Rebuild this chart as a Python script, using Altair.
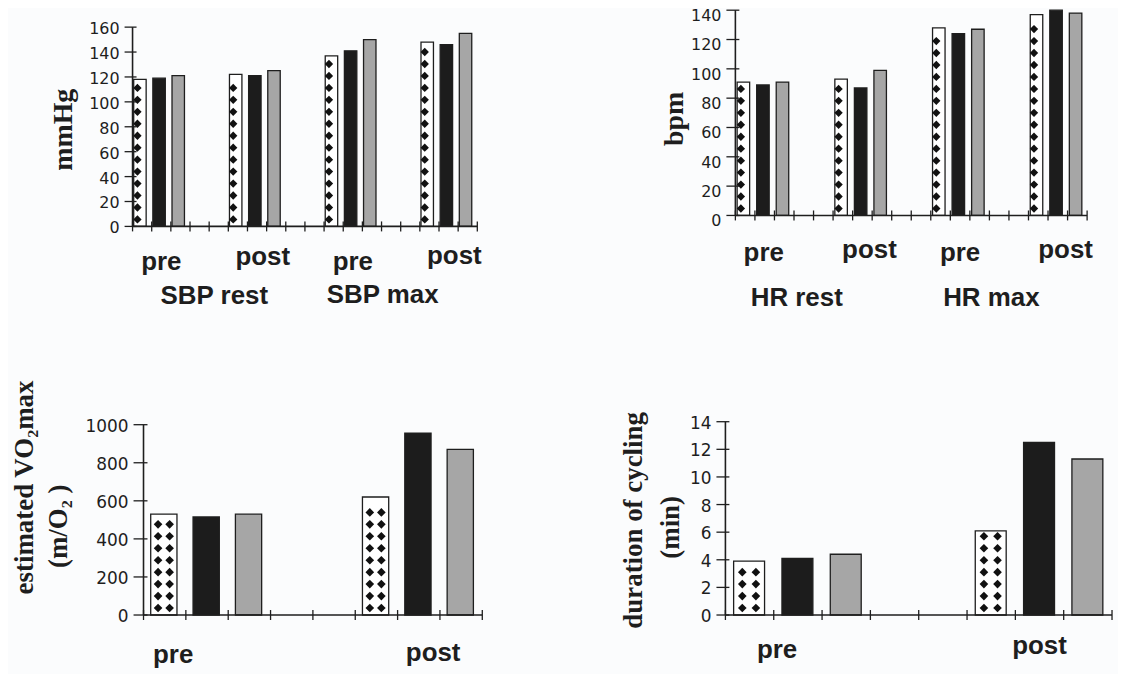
import altair as alt
import pandas as pd

# ---------------- data ----------------
SERIES = ["Group 1", "Group 2", "Group 3"]

SBP_LABELS = ["pre", "post", "pre", "post"]
SBP_SUB = ["SBP rest", "SBP max"]
SBP_G1 = [118, 122, 137, 148]
SBP_G2 = [119, 121, 141, 146]
SBP_G3 = [121, 125, 150, 155]
SBP_TICKS = [0, 20, 40, 60, 80, 100, 120, 140, 160]

HR_LABELS = ["pre", "post", "pre", "post"]
HR_SUB = ["HR  rest", "HR max"]
HR_G1 = [91, 93, 128, 137]
HR_G2 = [89, 87, 124, 140]
HR_G3 = [91, 99, 127, 138]
HR_TICKS = [0, 20, 40, 60, 80, 100, 120, 140]

VO2_LABELS = ["pre", "post"]
VO2_G1 = [530, 620]
VO2_G2 = [515, 955]
VO2_G3 = [530, 870]
VO2_TICKS = [0, 200, 400, 600, 800, 1000]

DUR_LABELS = ["pre", "post"]
DUR_G1 = [3.9, 6.1]
DUR_G2 = [4.1, 12.5]
DUR_G3 = [4.4, 11.3]
DUR_TICKS = [0, 2, 4, 6, 8, 10, 12, 14]

# ---------------- style / layout ----------------
INK = "#1e1e1e"
BG = "#fbfcfd"
FILLS = ["#ffffff", "#1c1c1c", "#a6a6a6"]
SERIF = "Liberation Serif"
SANS = "Liberation Sans"
TICKFONT = "DejaVu Sans"
GROUP_STEP = 5


def panel(series_vals, ticks, n_slots, plot_w, plot_h, ext_left, ext_top,
          bar_off, bar_w, tick_len, tick_fs, tick_dy, pattern, labels, titles):
    slot_px = plot_w / n_slots
    ymax = ticks[-1]
    unit_px = plot_h / ymax
    width = plot_w + ext_left
    height = plot_h + ext_top
    xscale = alt.Scale(domain=[-ext_left / slot_px, n_slots], nice=False, zero=False)
    yscale = alt.Scale(domain=[0, ymax + ext_top / unit_px], nice=False, zero=False)

    rows = []
    for s, vals in enumerate(series_vals):
        for g, v in enumerate(vals):
            rows.append({"series": SERIES[s], "slot": g * GROUP_STEP + s, "value": v})
    df = pd.DataFrame(rows)

    bars = alt.Chart(df).transform_calculate(
        x0=f"datum.slot + {bar_off}", x1=f"datum.slot + {bar_off + bar_w}"
    ).mark_bar(stroke=INK, strokeWidth=1.3).encode(
        x=alt.X("x0:Q", scale=xscale, axis=None),
        x2="x1:Q",
        y=alt.Y("value:Q", scale=yscale, axis=None),
        y2=alt.value(height),
        fill=alt.Fill("series:N", scale=alt.Scale(domain=SERIES, range=FILLS), legend=None),
    )

    # diamond texture of the first (patterned) series
    cols, dsize = pattern
    drows = []
    for g, v in enumerate(series_vals[0]):
        slot = g * GROUP_STEP
        ypx = 7.0
        while ypx < v * unit_px - 5:
            for c in cols:
                drows.append({"dx": slot + bar_off + c * bar_w, "dy": ypx / unit_px})
            ypx += 12.0
    dia = alt.Chart(pd.DataFrame(drows)).mark_point(
        shape="diamond", filled=True, color="#111111", size=dsize, opacity=1
    ).encode(x=alt.X("dx:Q", scale=xscale, axis=None),
             y=alt.Y("dy:Q", scale=yscale, axis=None))

    # axis lines, ticks and tick labels
    base = alt.Chart(pd.DataFrame({"a": [0], "b": [n_slots]})).mark_rule(
        color=INK, strokeWidth=1.6
    ).encode(x=alt.X("a:Q", scale=xscale, axis=None), x2="b:Q", y=alt.value(height))
    yline = alt.Chart(pd.DataFrame({"a": [0], "b": [ymax]})).mark_rule(
        color=INK, strokeWidth=1.6
    ).encode(y=alt.Y("a:Q", scale=yscale, axis=None), y2="b:Q", x=alt.value(ext_left))
    xt = alt.Chart(pd.DataFrame({"s": list(range(n_slots + 1))})).mark_rule(
        color=INK, strokeWidth=1.3
    ).encode(x=alt.X("s:Q", scale=xscale, axis=None), y=alt.value(height - 5),
             y2=alt.value(height + 5))
    yt = alt.Chart(pd.DataFrame({"v": ticks})).mark_rule(
        color=INK, strokeWidth=1.3
    ).encode(y=alt.Y("v:Q", scale=yscale, axis=None), x=alt.value(ext_left - tick_len),
             x2=alt.value(ext_left + 4))
    ylab = alt.Chart(pd.DataFrame({"v": ticks})).mark_text(
        font=TICKFONT, fontSize=tick_fs, align="right", baseline="middle",
        color=INK, dy=tick_dy
    ).encode(y=alt.Y("v:Q", scale=yscale, axis=None),
             x=alt.value(ext_left - tick_len - 5), text=alt.Text("v:Q", format="d"))

    layers = [bars, dia, base, yline, xt, yt, ylab]
    for (t, xs, py) in labels:
        layers.append(
            alt.Chart(pd.DataFrame({"t": [t], "xs": [xs]})).mark_text(
                font=SANS, fontWeight="bold", fontSize=26, baseline="alphabetic",
                align="center", color=INK
            ).encode(x=alt.X("xs:Q", scale=xscale, axis=None),
                     y=alt.value(py), text="t:N")
        )
    for (t, px, py, fs) in titles:
        layers.append(
            alt.Chart(pd.DataFrame({"t": [t]})).mark_text(
                font=SERIF, fontWeight="bold", fontSize=fs, angle=270,
                baseline="alphabetic", align="center", color=INK
            ).encode(text="t:N", x=alt.value(px), y=alt.value(py))
        )
    return alt.layer(*layers).properties(width=width, height=height)


tl = panel([SBP_G1, SBP_G2, SBP_G3], SBP_TICKS, 18, 346, 200, 0, 17,
           0.06, 0.65, 8, 16, 2, ([0.3], 70),
           [(SBP_LABELS[0], 1.5, 261), (SBP_LABELS[1], 6.8, 256),
            (SBP_LABELS[2], 11.5, 261), (SBP_LABELS[3], 16.8, 255),
            (SBP_SUB[0], 4.27, 295), (SBP_SUB[1], 13.06, 294)],
           [("mmHg", -61, 120, 28)])

tr = panel([HR_G1, HR_G2, HR_G3], HR_TICKS, 18, 353, 206, 10, 0,
           0.09, 0.64, 9, 16, 6, ([0.3], 70),
           [(HR_LABELS[0], 1.45, 252), (HR_LABELS[1], 6.86, 249),
            (HR_LABELS[2], 11.5, 252), (HR_LABELS[3], 16.9, 249),
            (HR_SUB[0], 3.14, 297), (HR_SUB[1], 13.1, 297)],
           [("bpm", -43, 109, 28)])

bl = panel([VO2_G1, VO2_G2, VO2_G3], VO2_TICKS, 8, 340, 191, 11, 3,
           0.17, 0.62, 10, 17, 2, ([0.28, 0.72], 75),
           [(VO2_LABELS[0], 0.7, 242), (VO2_LABELS[1], 6.84, 240)],
           [("estimated VO\u2082max", -100, 66, 27), ("(m/O\u2082 )", -66, 105, 27)])

br = panel([DUR_G1, DUR_G2, DUR_G3], DUR_TICKS, 8, 388, 194, 0, 0,
           0.17, 0.64, 9, 17, 2, ([0.28, 0.72], 75),
           [(DUR_LABELS[0], 1.07, 237), (DUR_LABELS[1], 6.5, 233)],
           [("duration of cycling", -84, 99, 27), ("(min)", -47, 106, 27)])

chart = alt.concat(
    tl, tr, bl, br, columns=2,
    spacing={"row": 196, "column": 244}, bounds="flush"
).properties(
    padding={"left": 3, "top": -1, "right": 5, "bottom": 5}
).configure(background=BG).configure_view(stroke=None)

chart.save("out.html", embed_options={"renderer": "svg", "actions": False})
